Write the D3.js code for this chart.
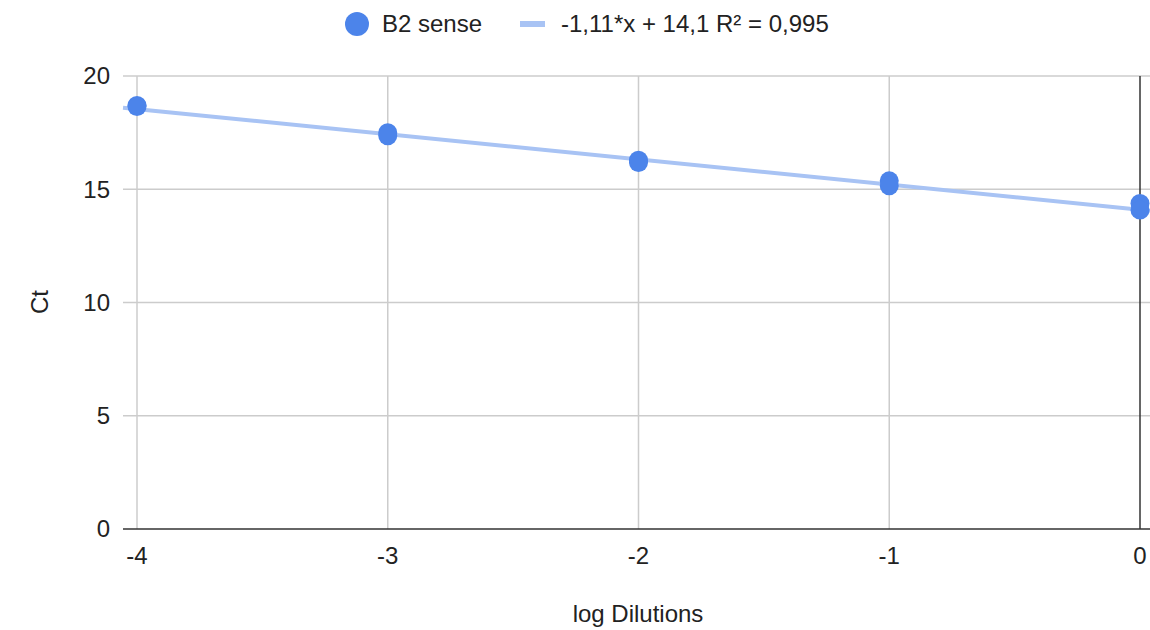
<!DOCTYPE html>
<html>
<head>
  <meta charset="utf-8">
  <title>B2 sense</title>
  <style>
    body { margin: 0; background: #fff; }
    text { font-family: "Liberation Sans", Arial, sans-serif; fill: #222; }
  </style>
  <script src="https://d3js.org/d3.v7.min.js"></script>
</head>
<body>
<svg width="1150" height="630"></svg>
<script>
var logDilutions = [-4, -4, -3, -3, -2, -2, -1, -1, 0, 0];
var ctValues = [18.7, 18.65, 17.5, 17.36, 16.28, 16.18, 15.37, 15.15, 14.37, 14.08];
var xTicks = [-4, -3, -2, -1, 0];
var yTicks = [0, 5, 10, 15, 20];
var slope = -1.11, intercept = 14.1;
var trendLabel = "-1,11*x + 14,1 R\u00b2 = 0,995";
var seriesLabel = "B2 sense";

var svg = d3.select("svg");
var plotLeft = 123, plotRight = 1150, plotTop = 76, plotBottom = 529;

var x = d3.scaleLinear().domain([-4, 0]).range([137, 1140]);
var y = d3.scaleLinear().domain([0, 20]).range([plotBottom, plotTop]);

// grid
svg.append("g").selectAll("line")
  .data(yTicks.filter(function(d) { return d > 0; }))
  .enter().append("line")
  .attr("x1", plotLeft).attr("x2", plotRight)
  .attr("y1", function(d) { return y(d); })
  .attr("y2", function(d) { return y(d); })
  .attr("stroke", "#cccccc").attr("stroke-width", 1.5);

svg.append("g").selectAll("line")
  .data(xTicks.filter(function(d) { return d != 0; }))
  .enter().append("line")
  .attr("x1", function(d) { return x(d); })
  .attr("x2", function(d) { return x(d); })
  .attr("y1", plotTop).attr("y2", plotBottom)
  .attr("stroke", "#cccccc").attr("stroke-width", 1.5);

// zero lines
svg.append("line")
  .attr("x1", x(0)).attr("x2", x(0))
  .attr("y1", plotTop).attr("y2", plotBottom)
  .attr("stroke", "#333").attr("stroke-width", 1.5);
svg.append("line")
  .attr("x1", plotLeft).attr("x2", plotRight)
  .attr("y1", y(0)).attr("y2", y(0))
  .attr("stroke", "#333").attr("stroke-width", 1.5);

// tick labels
svg.append("g").selectAll("text")
  .data(yTicks)
  .enter().append("text")
  .attr("x", 110)
  .attr("y", function(d) { return y(d); })
  .attr("dy", "0.35em")
  .attr("text-anchor", "end")
  .attr("font-size", "24px")
  .text(function(d) { return d; });

svg.append("g").selectAll("text")
  .data(xTicks)
  .enter().append("text")
  .attr("x", function(d) { return x(d); })
  .attr("y", 556)
  .attr("dy", "0.35em")
  .attr("text-anchor", "middle")
  .attr("font-size", "24px")
  .text(function(d) { return d; });

// axis titles
svg.append("text")
  .attr("transform", "translate(40,302) rotate(-90)")
  .attr("dy", "0.35em")
  .attr("text-anchor", "middle")
  .attr("font-size", "24px")
  .text("Ct");

svg.append("text")
  .attr("x", 638).attr("y", 614)
  .attr("dy", "0.35em")
  .attr("text-anchor", "middle")
  .attr("font-size", "24px")
  .text("log Dilutions");

// trendline
var x0 = x.invert(plotLeft), x1 = x.invert(plotRight);
svg.append("line")
  .attr("x1", x(x0)).attr("y1", y(slope * x0 + intercept))
  .attr("x2", x(x1)).attr("y2", y(slope * x1 + intercept))
  .attr("stroke", "#a8c3f4").attr("stroke-width", 4);

// points
svg.append("g").selectAll("circle")
  .data(logDilutions)
  .enter().append("circle")
  .attr("cx", function(d) { return x(d); })
  .attr("cy", function(d, i) { return y(ctValues[i]); })
  .attr("r", 9.5)
  .attr("fill", "#4c84ea");

// legend
var lg = svg.append("g");
lg.append("circle").attr("cx", 357).attr("cy", 24).attr("r", 12).attr("fill", "#4c84ea");
lg.append("text").attr("x", 382).attr("y", 24).attr("dy", "0.35em")
  .attr("font-size", "24px").text(seriesLabel);
lg.append("rect").attr("x", 520).attr("y", 21).attr("width", 25).attr("height", 6)
  .attr("fill", "#a8c3f4");
lg.append("text").attr("x", 561).attr("y", 24).attr("dy", "0.35em")
  .attr("font-size", "24px").text(trendLabel);
</script>
</body>
</html>
